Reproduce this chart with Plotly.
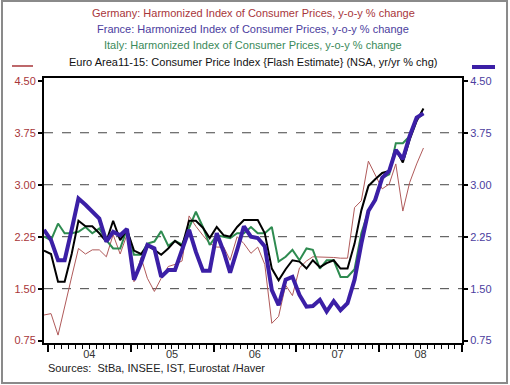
import plotly.graph_objects as go

# Monthly observations Dec 2003 .. Jul 2008 (plotted mid-month)
months = [f"{y}-{m:02d}-15" for y in range(2003, 2009) for m in range(1, 13)]
months = months[months.index("2003-12-15"):months.index("2008-07-15") + 1]

germany = [1.12, 1.14, 0.83, 1.25, 1.67, 2.08, 2.00, 2.06, 2.06, 1.96, 2.28, 2.00, 2.28,
           1.60, 1.95, 1.65, 1.46, 1.65, 1.82, 1.85, 1.90, 2.55, 2.40, 2.27, 2.15,
           2.10, 2.10, 1.91, 2.25, 2.15, 2.01, 2.10, 1.85, 1.00, 1.10, 1.55, 1.40,
           1.80, 1.90, 1.96, 1.96, 1.96, 1.95, 1.94, 1.94, 2.67, 2.77, 3.34, 3.15,
           2.94, 3.01, 3.30, 2.62, 3.03, 3.30, 3.53]
france = [2.35, 2.20, 1.91, 1.91, 2.35, 2.80, 2.71, 2.62, 2.51, 2.18, 2.32, 2.27, 2.36,
          1.63, 1.87, 2.13, 2.08, 1.67, 1.77, 1.77, 2.06, 2.35, 2.03, 1.76, 1.76,
          2.30, 2.03, 1.73, 2.06, 2.40, 2.25, 2.23, 2.11, 1.48, 1.26, 1.63, 1.67,
          1.41, 1.24, 1.25, 1.34, 1.17, 1.32, 1.19, 1.29, 1.63, 2.15, 2.62, 2.78,
          3.10, 3.20, 3.50, 3.37, 3.70, 3.97, 4.03]
italy = [2.25, 2.20, 2.44, 2.30, 2.30, 2.32, 2.39, 2.30, 2.37, 2.20, 2.08, 2.08, 2.36,
         1.99, 1.99, 2.15, 2.18, 2.33, 2.12, 2.19, 2.14, 2.39, 2.61, 2.39, 2.13,
         2.27, 2.25, 2.23, 2.30, 2.30, 2.39, 2.30, 2.30, 2.39, 1.89, 1.96, 2.06,
         1.91, 2.08, 2.06, 1.79, 1.91, 1.91, 1.67, 1.67, 1.78, 2.30, 2.62, 2.80,
         3.10, 3.15, 3.60, 3.60, 3.70, 3.95, 4.02]
euro = [2.05, 2.00, 1.60, 1.60, 2.00, 2.48, 2.40, 2.40, 2.30, 2.18, 2.48, 2.20, 2.35,
        2.05, 2.00, 2.12, 2.06, 1.99, 2.08, 2.19, 2.11, 2.48, 2.48, 2.38, 2.23,
        2.39, 2.27, 2.25, 2.39, 2.49, 2.49, 2.49, 2.30, 1.79, 1.62, 1.78, 1.91,
        1.89, 1.79, 1.91, 1.81, 1.87, 1.91, 1.79, 1.79, 2.15, 2.63, 2.98, 3.08,
        3.17, 3.20, 3.51, 3.32, 3.65, 3.92, 4.10]

y_ticks = [0.75, 1.50, 2.25, 3.00, 3.75, 4.50]
y_ticktext = ["0.75", "1.50", "2.25", "3.00", "3.75", "4.50"]
grid_levels = [1.50, 2.25, 3.00, 3.75]
year_starts = ["2004-01-01", "2005-01-01", "2006-01-01", "2007-01-01", "2008-01-01", "2009-01-01"]
year_mids = ["2004-07-02", "2005-07-02", "2006-07-02", "2007-07-02", "2008-07-02"]
year_labels = ["04", "05", "06", "07", "08"]

titles = [
    ("Germany: Harmonized Index of Consumer Prices, y-o-y % change", "#a8363a"),
    ("France: Harmonized Index of Consumer Prices, y-o-y % change", "#4b3d9e"),
    ("Italy: Harmonized Index of Consumer Prices, y-o-y % change", "#3a8a5a"),
    ("Euro Area11-15: Consumer Price Index {Flash Estimate} (NSA, yr/yr % chg)", "#111111"),
]

FONT = "Liberation Sans, Arial, sans-serif"
XR = ["2003-12-15", "2009-01-01"]
YR = [0.716, 4.54]

fig = go.Figure()
fig.add_trace(go.Scatter(x=months, y=germany, mode="lines", line=dict(color="#b05a5a", width=1),
                         name="Germany", yaxis="y"))
fig.add_trace(go.Scatter(x=months, y=italy, mode="lines", line=dict(color="#2e8b50", width=2),
                         name="Italy", yaxis="y"))
fig.add_trace(go.Scatter(x=months, y=euro, mode="lines", line=dict(color="#000000", width=2),
                         name="Euro Area", yaxis="y"))
fig.add_trace(go.Scatter(x=months, y=france, mode="lines", line=dict(color="#3b1fa6", width=4),
                         name="France", yaxis="y2"))
# invisible trace to anchor the axis carrying year-boundary ticks
fig.add_trace(go.Scatter(x=[months[0]], y=[2], xaxis="x2", mode="lines",
                         line=dict(width=0), showlegend=False, hoverinfo="skip"))

fig.update_layout(
    width=510, height=385,
    margin=dict(l=44, r=48, t=78, b=42),
    paper_bgcolor="white", plot_bgcolor="white",
    showlegend=False,
    font=dict(family=FONT, size=11, color="#222"),
    xaxis=dict(range=XR, type="date", tickvals=year_mids, ticktext=year_labels,
               ticks="", showgrid=False, zeroline=False,
               showline=True, linecolor="black", linewidth=2, mirror=True,
               tickfont=dict(size=11, color="#333"),
               minor=dict(ticks="outside", ticklen=4, tickcolor="black", tickwidth=1,
                          dtick="M1", tick0="2004-01-01", showgrid=False)),
    xaxis2=dict(range=XR, type="date", overlaying="x", anchor="y", side="bottom",
                tickvals=year_starts, ticks="outside", ticklen=8, tickwidth=2,
                tickcolor="black", showticklabels=False, showgrid=False,
                zeroline=False, showline=False),
    yaxis=dict(range=YR, tickvals=y_ticks, ticktext=y_ticktext, ticks="outside",
               ticklen=4, tickcolor="black", tickwidth=2, showgrid=False, zeroline=False,
               showline=True, linecolor="black", linewidth=2,
               tickfont=dict(size=11, color="#a8363a")),
    yaxis2=dict(range=YR, overlaying="y", side="right", tickvals=y_ticks, ticktext=y_ticktext,
                ticks="outside", ticklen=4, tickcolor="black", tickwidth=2, showgrid=False,
                zeroline=False, showline=True, linecolor="black", linewidth=2,
                tickfont=dict(size=11, color="#4b3d9e")),
)

shapes = []
for g in grid_levels:
    shapes.append(dict(type="line", xref="paper", yref="y", x0=0, x1=1, y0=g, y1=g,
                       line=dict(color="#444", width=1, dash="dash"), layer="below"))
# outer frame
shapes.append(dict(type="rect", xref="paper", yref="paper", x0=-0.1005, x1=1.1077,
                   y0=-0.151, y1=1.2906, line=dict(color="#8a8a8a", width=2)))
# axis keys
shapes.append(dict(type="line", xref="paper", yref="paper", x0=-0.0766, x1=-0.0263,
                   y0=1.0453, y1=1.0453, line=dict(color="#a8363a", width=1.5)))
shapes.append(dict(type="line", xref="paper", yref="paper", x0=1.0239, x1=1.0789,
                   y0=1.0415, y1=1.0415, line=dict(color="#3b1fa6", width=4)))
fig.update_layout(shapes=shapes)

ann = []
ys = [1.2453, 1.1849, 1.1245, 1.0604]
for (txt, col), yy in zip(titles, ys):
    ann.append(dict(text=txt, xref="paper", yref="paper", x=0.5, y=yy, xanchor="center",
                    yanchor="middle", showarrow=False, font=dict(size=11, color=col, family=FONT)))
ann.append(dict(text="Sources:  StBa, INSEE, IST, Eurostat /Haver", xref="paper", yref="paper",
                x=0.005, y=-0.094, xanchor="left", yanchor="middle", showarrow=False,
                font=dict(size=11, color="#222", family=FONT)))
fig.update_layout(annotations=ann)

fig.write_html("out.html", config={"displayModeBar": False},
               post_script="document.body.style.margin='0';document.body.style.overflow='hidden';")
